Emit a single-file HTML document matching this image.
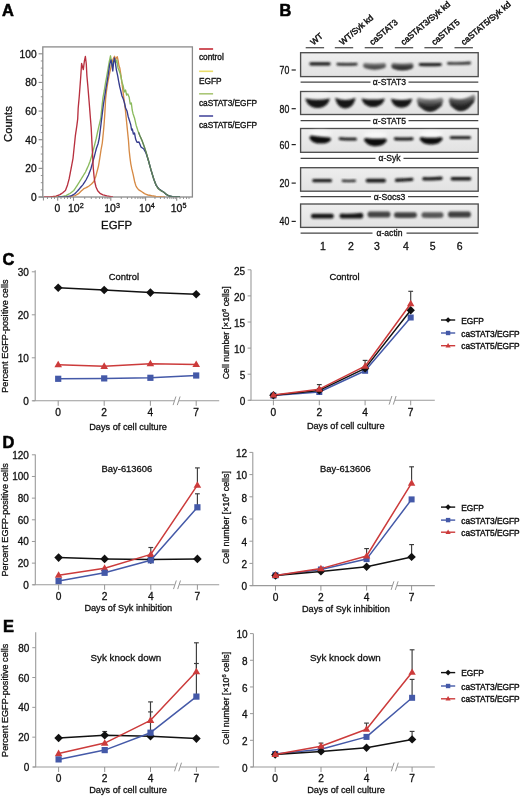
<!DOCTYPE html>
<html><head><meta charset="utf-8"><title>Figure</title>
<style>
html,body{margin:0;padding:0;background:#fff;}
body{width:520px;height:797px;overflow:hidden;}
svg{display:block;font-family:"Liberation Sans", sans-serif;will-change:transform;}
text{stroke:#111;stroke-width:0.3px;}
</style></head><body>
<svg width="520" height="797" viewBox="0 0 520 797">
<rect width="520" height="797" fill="#fff"/>
<text x="1.9" y="15.6" font-size="16.4" text-anchor="start" font-weight="bold" fill="#000" style="stroke:#000;stroke-width:0.55px">A</text>
<rect x="42.8" y="46.9" width="149.6" height="150.1" fill="none" stroke="#8a8a8a" stroke-width="1.3"/>
<line x1="38.6" y1="197" x2="42.8" y2="197" stroke="#8a8a8a" stroke-width="1.3" />
<line x1="38.6" y1="197" x2="42.8" y2="197" stroke="#8a8a8a" stroke-width="1.1" />
<text x="36.6" y="200.8" font-size="10.2" text-anchor="end" font-weight="normal" fill="#111" >0</text>
<line x1="40.8" y1="189.84" x2="42.8" y2="189.84" stroke="#8a8a8a" stroke-width="0.9" />
<line x1="40.8" y1="182.68" x2="42.8" y2="182.68" stroke="#8a8a8a" stroke-width="0.9" />
<line x1="40.8" y1="175.52" x2="42.8" y2="175.52" stroke="#8a8a8a" stroke-width="0.9" />
<line x1="38.6" y1="168.36" x2="42.8" y2="168.36" stroke="#8a8a8a" stroke-width="1.1" />
<text x="36.6" y="172.16" font-size="10.2" text-anchor="end" font-weight="normal" fill="#111" >20</text>
<line x1="40.8" y1="161.2" x2="42.8" y2="161.2" stroke="#8a8a8a" stroke-width="0.9" />
<line x1="40.8" y1="154.04" x2="42.8" y2="154.04" stroke="#8a8a8a" stroke-width="0.9" />
<line x1="40.8" y1="146.88" x2="42.8" y2="146.88" stroke="#8a8a8a" stroke-width="0.9" />
<line x1="38.6" y1="139.72" x2="42.8" y2="139.72" stroke="#8a8a8a" stroke-width="1.1" />
<text x="36.6" y="143.52" font-size="10.2" text-anchor="end" font-weight="normal" fill="#111" >40</text>
<line x1="40.8" y1="132.56" x2="42.8" y2="132.56" stroke="#8a8a8a" stroke-width="0.9" />
<line x1="40.8" y1="125.4" x2="42.8" y2="125.4" stroke="#8a8a8a" stroke-width="0.9" />
<line x1="40.8" y1="118.24" x2="42.8" y2="118.24" stroke="#8a8a8a" stroke-width="0.9" />
<line x1="38.6" y1="111.08" x2="42.8" y2="111.08" stroke="#8a8a8a" stroke-width="1.1" />
<text x="36.6" y="114.88" font-size="10.2" text-anchor="end" font-weight="normal" fill="#111" >60</text>
<line x1="40.8" y1="103.92" x2="42.8" y2="103.92" stroke="#8a8a8a" stroke-width="0.9" />
<line x1="40.8" y1="96.76" x2="42.8" y2="96.76" stroke="#8a8a8a" stroke-width="0.9" />
<line x1="40.8" y1="89.6" x2="42.8" y2="89.6" stroke="#8a8a8a" stroke-width="0.9" />
<line x1="38.6" y1="82.44" x2="42.8" y2="82.44" stroke="#8a8a8a" stroke-width="1.1" />
<text x="36.6" y="86.24" font-size="10.2" text-anchor="end" font-weight="normal" fill="#111" >80</text>
<line x1="40.8" y1="75.28" x2="42.8" y2="75.28" stroke="#8a8a8a" stroke-width="0.9" />
<line x1="40.8" y1="68.12" x2="42.8" y2="68.12" stroke="#8a8a8a" stroke-width="0.9" />
<line x1="40.8" y1="60.96" x2="42.8" y2="60.96" stroke="#8a8a8a" stroke-width="0.9" />
<line x1="38.6" y1="53.8" x2="42.8" y2="53.8" stroke="#8a8a8a" stroke-width="1.1" />
<text x="36.6" y="57.6" font-size="10.2" text-anchor="end" font-weight="normal" fill="#111" >100</text>
<line x1="43.4" y1="197" x2="43.4" y2="200.5" stroke="#8a8a8a" stroke-width="1" />
<line x1="57.7" y1="197" x2="57.7" y2="200.8" stroke="#8a8a8a" stroke-width="1.1" />
<line x1="73.5" y1="197" x2="73.5" y2="200.8" stroke="#8a8a8a" stroke-width="1.1" />
<line x1="110.8" y1="197" x2="110.8" y2="200.8" stroke="#8a8a8a" stroke-width="1.1" />
<line x1="145.6" y1="197" x2="145.6" y2="200.8" stroke="#8a8a8a" stroke-width="1.1" />
<line x1="176.7" y1="197" x2="176.7" y2="200.8" stroke="#8a8a8a" stroke-width="1.1" />
<line x1="84.73" y1="197" x2="84.73" y2="199" stroke="#8a8a8a" stroke-width="0.9" />
<line x1="91.3" y1="197" x2="91.3" y2="199" stroke="#8a8a8a" stroke-width="0.9" />
<line x1="95.96" y1="197" x2="95.96" y2="199" stroke="#8a8a8a" stroke-width="0.9" />
<line x1="99.57" y1="197" x2="99.57" y2="199" stroke="#8a8a8a" stroke-width="0.9" />
<line x1="102.53" y1="197" x2="102.53" y2="199" stroke="#8a8a8a" stroke-width="0.9" />
<line x1="105.02" y1="197" x2="105.02" y2="199" stroke="#8a8a8a" stroke-width="0.9" />
<line x1="107.19" y1="197" x2="107.19" y2="199" stroke="#8a8a8a" stroke-width="0.9" />
<line x1="109.09" y1="197" x2="109.09" y2="199" stroke="#8a8a8a" stroke-width="0.9" />
<line x1="121.28" y1="197" x2="121.28" y2="199" stroke="#8a8a8a" stroke-width="0.9" />
<line x1="127.4" y1="197" x2="127.4" y2="199" stroke="#8a8a8a" stroke-width="0.9" />
<line x1="131.75" y1="197" x2="131.75" y2="199" stroke="#8a8a8a" stroke-width="0.9" />
<line x1="135.12" y1="197" x2="135.12" y2="199" stroke="#8a8a8a" stroke-width="0.9" />
<line x1="137.88" y1="197" x2="137.88" y2="199" stroke="#8a8a8a" stroke-width="0.9" />
<line x1="140.21" y1="197" x2="140.21" y2="199" stroke="#8a8a8a" stroke-width="0.9" />
<line x1="142.23" y1="197" x2="142.23" y2="199" stroke="#8a8a8a" stroke-width="0.9" />
<line x1="144.01" y1="197" x2="144.01" y2="199" stroke="#8a8a8a" stroke-width="0.9" />
<line x1="154.96" y1="197" x2="154.96" y2="199" stroke="#8a8a8a" stroke-width="0.9" />
<line x1="160.44" y1="197" x2="160.44" y2="199" stroke="#8a8a8a" stroke-width="0.9" />
<line x1="164.32" y1="197" x2="164.32" y2="199" stroke="#8a8a8a" stroke-width="0.9" />
<line x1="167.34" y1="197" x2="167.34" y2="199" stroke="#8a8a8a" stroke-width="0.9" />
<line x1="169.8" y1="197" x2="169.8" y2="199" stroke="#8a8a8a" stroke-width="0.9" />
<line x1="171.88" y1="197" x2="171.88" y2="199" stroke="#8a8a8a" stroke-width="0.9" />
<line x1="173.69" y1="197" x2="173.69" y2="199" stroke="#8a8a8a" stroke-width="0.9" />
<line x1="175.28" y1="197" x2="175.28" y2="199" stroke="#8a8a8a" stroke-width="0.9" />
<line x1="47.5" y1="197" x2="47.5" y2="199" stroke="#8a8a8a" stroke-width="0.9" />
<line x1="51.5" y1="197" x2="51.5" y2="199" stroke="#8a8a8a" stroke-width="0.9" />
<line x1="54.5" y1="197" x2="54.5" y2="199" stroke="#8a8a8a" stroke-width="0.9" />
<line x1="61" y1="197" x2="61" y2="199" stroke="#8a8a8a" stroke-width="0.9" />
<line x1="64.5" y1="197" x2="64.5" y2="199" stroke="#8a8a8a" stroke-width="0.9" />
<line x1="67.5" y1="197" x2="67.5" y2="199" stroke="#8a8a8a" stroke-width="0.9" />
<line x1="70.5" y1="197" x2="70.5" y2="199" stroke="#8a8a8a" stroke-width="0.9" />
<line x1="180" y1="197" x2="180" y2="199" stroke="#8a8a8a" stroke-width="0.9" />
<line x1="183.5" y1="197" x2="183.5" y2="199" stroke="#8a8a8a" stroke-width="0.9" />
<line x1="186.5" y1="197" x2="186.5" y2="199" stroke="#8a8a8a" stroke-width="0.9" />
<line x1="189" y1="197" x2="189" y2="199" stroke="#8a8a8a" stroke-width="0.9" />
<text x="57.4" y="212.4" font-size="10.3" text-anchor="middle" font-weight="normal" fill="#111" >0</text>
<text x="75.8" y="212.4" font-size="10.5" text-anchor="middle" fill="#111">10<tspan font-size="7.2" dy="-4.4">2</tspan></text>
<text x="112.1" y="212.4" font-size="10.5" text-anchor="middle" fill="#111">10<tspan font-size="7.2" dy="-4.4">3</tspan></text>
<text x="146.9" y="212.4" font-size="10.5" text-anchor="middle" fill="#111">10<tspan font-size="7.2" dy="-4.4">4</tspan></text>
<text x="178.6" y="212.4" font-size="10.5" text-anchor="middle" fill="#111">10<tspan font-size="7.2" dy="-4.4">5</tspan></text>
<text x="116.6" y="229.3" font-size="11.4" text-anchor="middle" font-weight="normal" fill="#111" >EGFP</text>
<text transform="translate(12.1,124.1) rotate(-90)" font-size="11.3" text-anchor="middle" fill="#111">Counts</text>
<clipPath id="clipA"><rect x="43.5" y="47.5" width="148.3" height="149.2"/></clipPath>
<polyline points="62,197 63.33,196.93 64.67,196.87 66,196.8 67.33,196.73 68.67,196.67 70,196.6 71.25,196.38 72.5,196.15 73.75,195.92 75,195.7 76.17,195.03 77.33,194.37 78.5,193.7 79.5,192.73 80.5,191.77 81.5,190.8 82.75,189.7 84,188.6 86.2,187.7 87.6,186.85 89,186 90.25,185 91.5,184 92.65,182.75 93.8,181.5 94.25,180.38 94.7,179.25 95.15,178.12 95.6,177 95.92,175.8 96.24,174.6 96.56,173.4 96.88,172.2 97.2,171 97.53,169.75 97.85,168.5 98.17,167.25 98.5,166 98.72,164.67 98.93,163.33 99.15,162 99.37,160.67 99.58,159.33 99.8,158 100,156.67 100.2,155.33 100.4,154 100.6,152.67 100.8,151.33 101,150 101.26,148.6 101.52,147.2 101.78,145.8 102.04,144.4 102.3,143 102.42,141.78 102.54,140.56 102.67,139.33 102.79,138.11 102.91,136.89 103.03,135.67 103.16,134.44 103.28,133.22 103.4,132 103.52,130.67 103.63,129.33 103.75,128 103.87,126.67 103.98,125.33 104.1,124 104.2,122.6 104.3,121.2 104.4,119.8 104.5,118.4 104.6,117 104.67,115.75 104.75,114.5 104.83,113.25 104.9,112 104.97,110.75 105.05,109.5 105.12,108.25 105.2,107 105.27,105.67 105.33,104.33 105.4,103 105.47,101.67 105.53,100.33 105.6,99 105.75,97.67 105.9,96.33 106.05,95 106.2,93.67 106.35,92.33 106.5,91 106.7,89.67 106.9,88.33 107.1,87 107.3,85.67 107.5,84.33 107.7,83 107.96,81.6 108.22,80.2 108.48,78.8 108.74,77.4 109,76 109.26,74.8 109.52,73.6 109.78,72.4 110.04,71.2 110.3,70 110.56,68.8 110.82,67.6 111.08,66.4 111.34,65.2 111.6,64 112,62.67 112.4,61.33 112.8,60 113.3,58.75 113.8,57.5 114.6,56.3 114.87,57.53 115.13,58.77 115.4,60 116.3,58 117.3,56.8 117.6,58.2 117.9,59.6 118.2,61 118.4,62.25 118.6,63.5 118.8,64.75 119,66 119.8,68 120,69.25 120.2,70.5 120.4,71.75 120.6,73 120.76,74.2 120.92,75.4 121.08,76.6 121.24,77.8 121.4,79 121.56,80.2 121.72,81.4 121.88,82.6 122.04,83.8 122.2,85 122.36,86.24 122.52,87.48 122.68,88.72 122.84,89.96 123,91.2 123.16,92.56 123.32,93.92 123.48,95.28 123.64,96.64 123.8,98 123.96,99.2 124.12,100.4 124.28,101.6 124.44,102.8 124.6,104 124.76,105.2 124.92,106.4 125.08,107.6 125.24,108.8 125.4,110 125.53,111.33 125.67,112.67 125.8,114 125.93,115.33 126.07,116.67 126.2,118 126.33,119.33 126.47,120.67 126.6,122 126.73,123.33 126.87,124.67 127,126 127.13,127.33 127.27,128.67 127.4,130 127.53,131.33 127.67,132.67 127.8,134 127.94,135.36 128.08,136.72 128.22,138.08 128.36,139.44 128.5,140.8 128.59,142.05 128.68,143.3 128.76,144.55 128.85,145.8 128.94,147.05 129.02,148.3 129.11,149.55 129.2,150.8 129.33,152 129.47,153.2 129.6,154.4 129.73,155.6 129.87,156.8 130,158 130.2,159.45 130.4,160.9 130.6,162.35 130.8,163.8 131.05,165.1 131.3,166.4 131.55,167.7 131.8,169 132.1,170.2 132.4,171.4 132.7,172.6 133,173.8 133.25,174.98 133.5,176.15 133.75,177.32 134,178.5 134.27,179.77 134.53,181.03 134.8,182.3 135.3,183.9 135.8,185.5 136.35,186.6 136.9,187.7 137.7,188.7 138.5,189.7 140,190.6 141.5,191.5 142.5,192.2 143.5,192.9 144.5,193.6 145.67,194.07 146.83,194.53 148,195 149.33,195.27 150.67,195.53 152,195.8 153.33,196.03 154.67,196.27 156,196.5 157.29,196.57 158.57,196.64 159.86,196.71 161.14,196.79 162.43,196.86 163.71,196.93 165,197" fill="none" stroke="#d68a45" stroke-width="1.35" stroke-linejoin="round" clip-path="url(#clipA)"/>
<polyline points="52,197 53.33,196.97 54.67,196.93 56,196.9 57.33,196.87 58.67,196.83 60,196.8 61.2,196.56 62.4,196.32 63.6,196.08 64.8,195.84 66,195.6 67.33,194.9 68.67,194.2 70,193.5 70.95,192.75 71.9,192 72.85,191.25 73.8,190.5 74.54,189.4 75.28,188.3 76.02,187.2 76.76,186.1 77.5,185 78.17,183.92 78.83,182.83 79.5,181.75 80.17,180.67 80.83,179.58 81.5,178.5 82.17,177.42 82.83,176.33 83.5,175.25 84.17,174.17 84.83,173.08 85.5,172 86.04,170.8 86.58,169.6 87.12,168.4 87.66,167.2 88.2,166 88.65,164.88 89.1,163.75 89.55,162.62 90,161.5 90.36,160.29 90.71,159.07 91.07,157.86 91.43,156.64 91.79,155.43 92.14,154.21 92.5,153 92.85,151.67 93.2,150.33 93.55,149 93.9,147.67 94.25,146.33 94.6,145 94.92,143.7 95.24,142.4 95.56,141.1 95.88,139.8 96.2,138.5 96.47,137.25 96.73,136 97,134.75 97.27,133.5 97.53,132.25 97.8,131 98.08,129.8 98.36,128.6 98.64,127.4 98.92,126.2 99.2,125 99.52,123.6 99.84,122.2 100.16,120.8 100.48,119.4 100.8,118 100.93,116.67 101.07,115.33 101.2,114 101.33,112.67 101.47,111.33 101.6,110 101.74,108.73 101.88,107.46 102.02,106.19 102.16,104.92 102.3,103.65 102.44,102.38 102.58,101.11 102.72,99.84 102.86,98.57 103,97.3 103.24,96.04 103.48,94.78 103.72,93.52 103.96,92.26 104.2,91 104.4,89.75 104.6,88.5 104.8,87.25 105,86 105.2,84.75 105.4,83.5 105.64,82.2 105.88,80.9 106.12,79.6 106.36,78.3 106.6,77 106.83,75.67 107.07,74.33 107.3,73 107.53,71.67 107.77,70.33 108,69 108.24,67.6 108.48,66.2 108.72,64.8 108.96,63.4 109.2,62 109.46,60.76 109.72,59.52 109.98,58.28 110.24,57.04 110.5,55.8 110.72,57.1 110.95,58.4 111.18,59.7 111.4,61 111.58,62.2 111.76,63.4 111.94,64.6 112.12,65.8 112.3,67 112.58,65.75 112.85,64.5 113.12,63.25 113.4,62 113.95,60.5 114.5,59 114.87,60.33 115.23,61.67 115.6,63 116.2,61.5 116.8,60 117,61.33 117.2,62.67 117.4,64 117.6,65.33 117.8,66.67 118,68 118.65,69.5 119.3,71 119.67,72.2 120.05,73.4 120.42,74.6 120.8,75.8 121.04,77.04 121.28,78.28 121.52,79.52 121.76,80.76 122,82 122.4,83.33 122.8,84.67 123.2,86 123.42,87.2 123.64,88.4 123.86,89.6 124.08,90.8 124.3,92 125.5,90 125.78,91.25 126.05,92.5 126.32,93.75 126.6,95 127.8,94 128.5,95.65 129.2,97.3 129.4,98.64 129.6,99.98 129.8,101.32 130,102.66 130.2,104 131.3,103 131.48,104.4 131.66,105.8 131.84,107.2 132.02,108.6 132.2,110 132.5,111.33 132.8,112.67 133.1,114 133.57,115.33 134.03,116.67 134.5,118 134.78,119.23 135.07,120.47 135.35,121.7 135.63,122.93 135.92,124.17 136.2,125.4 136.65,126.8 137.1,128.2 137.55,129.6 138,131 138.5,132.25 139,133.5 139.5,134.75 140,136 140.6,137.33 141.2,138.67 141.8,140 142.3,141.35 142.8,142.7 143.3,144.05 143.8,145.4 144.24,146.72 144.68,148.04 145.12,149.36 145.56,150.68 146,152 146.36,153.26 146.71,154.51 147.07,155.77 147.43,157.03 147.79,158.29 148.14,159.54 148.5,160.8 148.86,162.11 149.21,163.43 149.57,164.74 149.93,166.06 150.29,167.37 150.64,168.69 151,170 151.35,171.15 151.7,172.3 152.05,173.45 152.4,174.6 152.75,175.75 153.1,176.9 153.45,178.05 153.8,179.2 154.24,180.36 154.68,181.52 155.12,182.68 155.56,183.84 156,185 156.83,186.27 157.67,187.53 158.5,188.8 159.75,189.7 161,190.6 162.25,191.3 163.5,192 164.75,193.1 166,194.2 167.5,195.1 169,196 170.33,196.27 171.67,196.53 173,196.8 174.4,196.84 175.8,196.88 177.2,196.92 178.6,196.96 180,197" fill="none" stroke="#8bbb5e" stroke-width="1.35" stroke-linejoin="round" clip-path="url(#clipA)"/>
<polyline points="58,197 59.33,196.97 60.67,196.93 62,196.9 63.33,196.87 64.67,196.83 66,196.8 67.25,196.6 68.5,196.4 69.75,196.2 71,196 72.17,195.33 73.33,194.67 74.5,194 75.57,192.93 76.63,191.87 77.7,190.8 78.63,189.7 79.57,188.6 80.5,187.5 81.33,186.53 82.17,185.57 83,184.6 83.75,183.45 84.5,182.3 85.25,181.15 86,180 86.62,178.75 87.25,177.5 87.88,176.25 88.5,175 88.96,173.8 89.42,172.6 89.88,171.4 90.34,170.2 90.8,169 91.13,167.83 91.47,166.67 91.8,165.5 92.13,164.33 92.47,163.17 92.8,162 93.16,160.68 93.52,159.36 93.88,158.04 94.24,156.72 94.6,155.4 94.92,154.17 95.23,152.93 95.55,151.7 95.87,150.47 96.18,149.23 96.5,148 97,146.67 97.5,145.33 98,144 98.3,142.62 98.6,141.25 98.9,139.88 99.2,138.5 99.36,137.29 99.51,136.07 99.67,134.86 99.83,133.64 99.99,132.43 100.14,131.21 100.3,130 100.45,128.75 100.6,127.5 100.75,126.25 100.9,125 101.05,123.75 101.2,122.5 101.35,121.25 101.5,120 101.67,118.67 101.83,117.33 102,116 102.17,114.67 102.33,113.33 102.5,112 102.67,110.67 102.83,109.33 103,108 103.17,106.67 103.33,105.33 103.5,104 103.72,102.67 103.93,101.33 104.15,100 104.37,98.67 104.58,97.33 104.8,96 105,94.67 105.2,93.33 105.4,92 105.6,90.67 105.8,89.33 106,88 106.23,86.67 106.47,85.33 106.7,84 106.93,82.67 107.17,81.33 107.4,80 107.6,78.67 107.8,77.33 108,76 108.2,74.67 108.4,73.33 108.6,72 108.8,70.67 109,69.33 109.2,68 109.4,66.67 109.6,65.33 109.8,64 110.2,62.67 110.6,61.33 111,60 111.25,61.25 111.5,62.5 111.75,63.75 112,65 112.16,66.2 112.32,67.4 112.48,68.6 112.64,69.8 112.8,71 112.91,69.71 113.03,68.43 113.14,67.14 113.26,65.86 113.37,64.57 113.49,63.29 113.6,62 113.9,60.67 114.2,59.33 114.5,58 114.72,59.25 114.95,60.5 115.18,61.75 115.4,63 115.6,64.4 115.8,65.8 116,67.2 116.2,68.6 116.4,70 116.73,71.45 117.05,72.9 117.38,74.35 117.7,75.8 117.92,77.04 118.14,78.28 118.36,79.52 118.58,80.76 118.8,82 119.05,83.25 119.3,84.5 119.55,85.75 119.8,87 120.13,88.33 120.47,89.67 120.8,91 121.1,92.25 121.4,93.5 121.7,94.75 122,96 122.65,97.5 123.3,99 123.7,100.33 124.1,101.67 124.5,103 124.78,104.25 125.05,105.5 125.32,106.75 125.6,108 126.3,109.5 127,111 127.26,112.2 127.52,113.4 127.78,114.6 128.04,115.8 128.3,117 128.73,118.33 129.17,119.67 129.6,121 130,122.33 130.4,123.67 130.8,125 131,126.25 131.2,127.5 131.4,128.75 131.6,130 132.3,129 132.58,130.25 132.85,131.5 133.12,132.75 133.4,134 134.5,133 134.72,134.2 134.94,135.4 135.16,136.6 135.38,137.8 135.6,139 136.3,140.65 137,142.3 139,142 139.5,143.25 140,144.5 140.5,145.75 141,147 142.4,148 143.8,149 144.53,150.33 145.27,151.67 146,153 146.42,154.3 146.83,155.6 147.25,156.9 147.67,158.2 148.08,159.5 148.5,160.8 148.86,162.11 149.21,163.43 149.57,164.74 149.93,166.06 150.29,167.37 150.64,168.69 151,170 151.35,171.15 151.7,172.3 152.05,173.45 152.4,174.6 152.75,175.75 153.1,176.9 153.45,178.05 153.8,179.2 154.24,180.36 154.68,181.52 155.12,182.68 155.56,183.84 156,185 156.83,186.17 157.67,187.33 158.5,188.5 159.75,189.45 161,190.4 162.25,191.2 163.5,192 164.75,193.1 166,194.2 167.5,195.1 169,196 170.33,196.27 171.67,196.53 173,196.8 174.4,196.84 175.8,196.88 177.2,196.92 178.6,196.96 180,197" fill="none" stroke="#353c8e" stroke-width="1.35" stroke-linejoin="round" clip-path="url(#clipA)"/>
<polyline points="138.5,132.25 139,133.5 139.5,134.75 140,136 140.6,137.33 141.2,138.67 141.8,140 142.3,141.35 142.8,142.7 143.3,144.05 143.8,145.4 144.24,146.72 144.68,148.04 145.12,149.36 145.56,150.68 146,152 146.36,153.26 146.71,154.51 147.07,155.77 147.43,157.03 147.79,158.29 148.14,159.54 148.5,160.8 148.86,162.11 149.21,163.43 149.57,164.74 149.93,166.06 150.29,167.37 150.64,168.69 151,170 151.35,171.15 151.7,172.3 152.05,173.45 152.4,174.6 152.75,175.75 153.1,176.9 153.45,178.05 153.8,179.2 154.24,180.36 154.68,181.52 155.12,182.68 155.56,183.84 156,185 156.83,186.27 157.67,187.53 158.5,188.8 159.75,189.7 161,190.6 162.25,191.3 163.5,192 164.75,193.1 166,194.2 167.5,195.1 169,196 170.33,196.27 171.67,196.53 173,196.8 174.4,196.84 175.8,196.88 177.2,196.92 178.6,196.96 180,197" fill="none" stroke="#5f7f58" stroke-width="1.3" stroke-linejoin="round" clip-path="url(#clipA)"/>
<polyline points="44,197 45.2,196.96 46.4,196.92 47.6,196.88 48.8,196.84 50,196.8 51.2,196.68 52.4,196.56 53.6,196.44 54.8,196.32 56,196.2 57.33,195.67 58.67,195.13 60,194.6 61,193.93 62,193.27 63,192.6 64.2,191.6 65.4,190.6 65.93,189.2 66.45,187.8 66.97,186.4 67.5,185 67.84,183.7 68.18,182.4 68.52,181.1 68.86,179.8 69.2,178.5 69.45,177.19 69.7,175.88 69.95,174.56 70.2,173.25 70.45,171.94 70.7,170.62 70.95,169.31 71.2,168 71.42,166.81 71.65,165.62 71.88,164.44 72.1,163.25 72.33,162.06 72.55,160.88 72.78,159.69 73,158.5 73.13,157.25 73.26,156 73.39,154.75 73.52,153.5 73.65,152.25 73.78,151 73.91,149.75 74.04,148.5 74.17,147.25 74.3,146 74.44,144.68 74.58,143.35 74.71,142.03 74.85,140.7 74.99,139.38 75.12,138.05 75.26,136.72 75.4,135.4 75.6,134.06 75.8,132.71 76,131.37 76.2,130.03 76.4,128.69 76.6,127.34 76.8,126 76.98,124.6 77.16,123.2 77.34,121.8 77.52,120.4 77.7,119 77.76,117.78 77.81,116.56 77.87,115.33 77.92,114.11 77.98,112.89 78.03,111.67 78.09,110.44 78.14,109.22 78.2,108 78.31,106.78 78.42,105.56 78.53,104.33 78.64,103.11 78.76,101.89 78.87,100.67 78.98,99.44 79.09,98.22 79.2,97 79.3,95.71 79.4,94.43 79.5,93.14 79.6,91.86 79.7,90.57 79.8,89.29 79.9,88 79.99,86.78 80.08,85.56 80.17,84.34 80.26,83.12 80.35,81.9 80.44,80.68 80.53,79.46 80.62,78.24 80.71,77.02 80.8,75.8 80.88,74.57 80.96,73.34 81.04,72.11 81.12,70.88 81.2,69.65 81.28,68.42 81.36,67.19 81.44,65.96 81.52,64.73 81.6,63.5 82,65 82.4,66.5 82.85,68.05 83.3,69.6 83.46,68.37 83.61,67.14 83.77,65.91 83.93,64.69 84.09,63.46 84.24,62.23 84.4,61 84.73,59.5 85.07,58 85.4,56.5 85.55,57.75 85.7,59 85.85,60.25 86,61.5 86.15,62.75 86.3,64 86.37,65.31 86.43,66.62 86.5,67.93 86.57,69.24 86.63,70.56 86.7,71.87 86.77,73.18 86.83,74.49 86.9,75.8 87.01,77.02 87.12,78.24 87.23,79.46 87.34,80.68 87.45,81.9 87.56,83.12 87.67,84.34 87.78,85.56 87.89,86.78 88,88 88.1,89.23 88.2,90.46 88.3,91.69 88.4,92.92 88.5,94.15 88.6,95.38 88.7,96.62 88.8,97.85 88.9,99.08 89,100.31 89.1,101.54 89.2,102.77 89.3,104 89.4,105.27 89.5,106.55 89.6,107.82 89.7,109.09 89.8,110.36 89.9,111.64 90,112.91 90.1,114.18 90.2,115.45 90.3,116.73 90.4,118 90.5,119.25 90.6,120.5 90.7,121.75 90.8,123 90.9,124.25 91,125.5 91.1,126.75 91.2,128 91.26,129.2 91.32,130.4 91.38,131.6 91.44,132.8 91.5,134 91.56,135.2 91.62,136.4 91.68,137.6 91.74,138.8 91.8,140 91.87,141.25 91.93,142.5 92,143.75 92.07,145 92.13,146.25 92.2,147.5 92.27,148.75 92.33,150 92.4,151.25 92.47,152.5 92.53,153.75 92.6,155 92.66,156.2 92.72,157.4 92.78,158.6 92.84,159.8 92.9,161 92.96,162.2 93.02,163.4 93.08,164.6 93.14,165.8 93.2,167 93.31,168.29 93.43,169.57 93.54,170.86 93.66,172.14 93.77,173.43 93.89,174.71 94,176 94.16,177.2 94.32,178.4 94.48,179.6 94.64,180.8 94.8,182 95.1,183.25 95.4,184.5 95.7,185.75 96,187 96.57,188.27 97.13,189.53 97.7,190.8 98.85,192.05 100,193.3 101.5,194.05 103,194.8 104.33,195.17 105.67,195.53 107,195.9 108.33,196.13 109.67,196.37 111,196.6 113,197" fill="none" stroke="#b8303f" stroke-width="1.35" stroke-linejoin="round" clip-path="url(#clipA)"/>
<line x1="199.1" y1="49" x2="213.1" y2="49" stroke="#c42a35" stroke-width="1.6" />
<text x="198.9" y="59.9" font-size="8.3" text-anchor="start" font-weight="normal" fill="#1a1a1a" style="stroke-width:0.35px">control</text>
<line x1="199.1" y1="71.3" x2="213.1" y2="71.3" stroke="#e9dc6a" stroke-width="1.6" />
<text x="198.9" y="83.7" font-size="8.3" text-anchor="start" font-weight="normal" fill="#1a1a1a" style="stroke-width:0.35px">EGFP</text>
<line x1="199.1" y1="93.8" x2="213.1" y2="93.8" stroke="#aac777" stroke-width="1.6" />
<text x="198.9" y="105.8" font-size="8.3" text-anchor="start" font-weight="normal" fill="#1a1a1a" style="stroke-width:0.35px">caSTAT3/EGFP</text>
<line x1="199.1" y1="116" x2="213.1" y2="116" stroke="#4a4c9e" stroke-width="1.6" />
<text x="198.9" y="128" font-size="8.3" text-anchor="start" font-weight="normal" fill="#1a1a1a" style="stroke-width:0.35px">caSTAT5/EGFP</text>
<text x="279.6" y="15.9" font-size="16.4" text-anchor="start" font-weight="bold" fill="#000" style="stroke:#000;stroke-width:0.55px">B</text>
<text transform="translate(313.4,45.4) rotate(-40.5)" font-size="8.5" fill="#111" style="stroke-width:0.45px">WT</text>
<text transform="translate(342.6,45.4) rotate(-40.5)" font-size="8.5" fill="#111" style="stroke-width:0.45px">WT/Syk kd</text>
<text transform="translate(372.4,45.4) rotate(-40.5)" font-size="8.5" fill="#111" style="stroke-width:0.45px">caSTAT3</text>
<text transform="translate(403.7,45.4) rotate(-40.5)" font-size="8.5" fill="#111" style="stroke-width:0.45px">caSTAT3/Syk kd</text>
<text transform="translate(434.4,45.4) rotate(-40.5)" font-size="8.5" fill="#111" style="stroke-width:0.45px">caSTAT5</text>
<text transform="translate(464.1,45.4) rotate(-40.5)" font-size="8.5" fill="#111" style="stroke-width:0.45px">caSTAT5/Syk kd</text>
<line x1="305.7" y1="47.7" x2="324.1" y2="47.7" stroke="#555" stroke-width="1.3" />
<line x1="334.8" y1="47.7" x2="353.2" y2="47.7" stroke="#555" stroke-width="1.3" />
<line x1="364.7" y1="47.7" x2="383.1" y2="47.7" stroke="#555" stroke-width="1.3" />
<line x1="394.8" y1="47.7" x2="413.2" y2="47.7" stroke="#555" stroke-width="1.3" />
<line x1="424.4" y1="47.7" x2="442.8" y2="47.7" stroke="#555" stroke-width="1.3" />
<line x1="454.5" y1="47.7" x2="472.9" y2="47.7" stroke="#555" stroke-width="1.3" />
<defs><linearGradient id="blotbg" x1="0" y1="0" x2="0" y2="1"><stop offset="0" stop-color="#eeeeee"/><stop offset="0.5" stop-color="#e8e8e8"/><stop offset="1" stop-color="#e2e2e2"/></linearGradient><linearGradient id="ug" x1="0" y1="0" x2="0" y2="1"><stop offset="0" stop-color="#9a9a9a"/><stop offset="0.45" stop-color="#4a4a4a"/><stop offset="1" stop-color="#1a1a1a"/></linearGradient><linearGradient id="ug3" x1="0" y1="0" x2="0" y2="1"><stop offset="0" stop-color="#8a8a8a"/><stop offset="0.5" stop-color="#4c4c4c"/><stop offset="1" stop-color="#333"/></linearGradient><filter id="bl" x="-20%" y="-60%" width="140%" height="220%"><feGaussianBlur stdDeviation="0.85"/></filter><filter id="bl2" x="-20%" y="-60%" width="140%" height="220%"><feGaussianBlur stdDeviation="1.6"/></filter></defs>
<rect x="300.6" y="52.7" width="177.6" height="23.9" fill="url(#blotbg)" stroke="#4e4e4e" stroke-width="1.35"/>
<rect x="300.6" y="91.5" width="177.6" height="23" fill="url(#blotbg)" stroke="#4e4e4e" stroke-width="1.35"/>
<rect x="300.6" y="128.5" width="177.6" height="23.8" fill="url(#blotbg)" stroke="#4e4e4e" stroke-width="1.35"/>
<rect x="300.6" y="167.7" width="177.6" height="23.5" fill="url(#blotbg)" stroke="#4e4e4e" stroke-width="1.35"/>
<rect x="300.6" y="204" width="177.6" height="23.4" fill="url(#blotbg)" stroke="#4e4e4e" stroke-width="1.35"/>
<path d="M310.6,62.2 Q320,62.4 329.4,62.2 Q331.96,63.8 329.4,65.4 Q320,65.8 310.6,65.4 Q308.04,63.8 310.6,62.2 Z" fill="#181818" opacity="1" filter="url(#bl)"/>
<path d="M337.35,62.8 Q347,63 356.65,62.8 Q358.81,64.15 356.65,65.5 Q347,65.9 337.35,65.5 Q335.19,64.15 337.35,62.8 Z" fill="#222" opacity="0.95" filter="url(#bl)"/>
<path d="M364.6,62.8 Q374.55,64.4 384.5,62.8 Q387.7,65.4 384.5,68 Q374.55,71.6 364.6,68 Q361.4,65.4 364.6,62.8 Z" fill="url(#ug3)" opacity="0.95" filter="url(#bl)"/>
<path d="M392.9,62.8 Q402.4,64 411.9,62.8 Q415.1,65.5 411.9,68.2 Q402.4,72.2 392.9,68.2 Q389.7,65.5 392.9,62.8 Z" fill="url(#ug3)" opacity="1" filter="url(#bl)"/>
<path d="M392.95,65.5 Q402.4,66.5 411.85,65.5 Q414.17,66.95 411.85,68.4 Q402.4,71.6 392.95,68.4 Q390.63,66.95 392.95,65.5 Z" fill="#2a2a2a" opacity="0.6" filter="url(#bl)"/>
<path d="M419.85,62.9 Q430.25,63.3 440.65,62.9 Q443.13,64.45 440.65,66 Q430.25,66.4 419.85,66 Q417.37,64.45 419.85,62.9 Z" fill="#1c1c1c" opacity="1" filter="url(#bl)"/>
<path d="M448,62 Q459,62.4 470,61.6 Q472.24,63 470,64.4 Q459,65 448,64.8 Q445.76,63.4 448,62 Z" fill="#262626" opacity="0.95" filter="url(#bl)"/>
<ellipse cx="317.6" cy="95" rx="12.6" ry="2.0" fill="#f6f6f6" opacity="0.7" filter="url(#bl2)"/>
<ellipse cx="345.35" cy="95.4" rx="10.55" ry="2.0" fill="#f6f6f6" opacity="0.7" filter="url(#bl2)"/>
<ellipse cx="373.2" cy="95.6" rx="11.9" ry="2.0" fill="#f6f6f6" opacity="0.7" filter="url(#bl2)"/>
<ellipse cx="401.55" cy="96" rx="10.95" ry="2.0" fill="#f6f6f6" opacity="0.7" filter="url(#bl2)"/>
<ellipse cx="430.05" cy="96.5" rx="13.75" ry="2.0" fill="#f6f6f6" opacity="0.7" filter="url(#bl2)"/>
<ellipse cx="462.1" cy="96" rx="13.7" ry="2.0" fill="#f6f6f6" opacity="0.7" filter="url(#bl2)"/>
<path d="M305.9,98.4 Q317.6,101.2 329.3,98.4 Q330.74,99.3 329.3,100.2 C326.28,110.6 308.92,110.6 305.9,100.2 Q304.46,99.3 305.9,98.4 Z" fill="#141414" opacity="1" filter="url(#bl)"/>
<path d="M335.8,98 Q345.35,102 354.9,98 Q356.5,99 354.9,100 C352.37,111.2 338.33,111.2 335.8,100 Q334.2,99 335.8,98 Z" fill="#141414" opacity="1" filter="url(#bl)"/>
<path d="M362.2,98.4 Q373.2,100.8 384.2,98.4 Q385.64,99.3 384.2,100.2 C381.34,109.27 365.06,109.27 362.2,100.2 Q360.76,99.3 362.2,98.4 Z" fill="#141414" opacity="1" filter="url(#bl)"/>
<path d="M391.5,98.8 Q401.55,101.2 411.6,98.8 Q413.04,99.7 411.6,100.6 C408.97,110.2 394.13,110.2 391.5,100.6 Q390.06,99.7 391.5,98.8 Z" fill="#141414" opacity="1" filter="url(#bl)"/>
<path d="M418.3,97.6 Q430.05,100.8 441.8,97.6 Q445,100.8 441.8,104 Q430.05,118.8 418.3,104 Q415.1,100.8 418.3,97.6 Z" fill="url(#ug)" opacity="1" filter="url(#bl)"/>
<path d="M419.25,103 Q430.05,110 440.85,103 Q443.65,104.75 440.85,106.5 Q430.05,115.9 419.25,106.5 Q416.45,104.75 419.25,103 Z" fill="#1c1c1c" opacity="0.7" filter="url(#bl)"/>
<path d="M450.4,97.6 Q462.1,102.1 473.8,94.2 Q477,97.85 473.8,101.5 Q462.1,118.85 450.4,104 Q447.2,100.8 450.4,97.6 Z" fill="url(#ug)" opacity="1" filter="url(#bl)"/>
<path d="M451.5,102.5 Q462,111 472.5,99.5 Q475.7,101.5 472.5,103.5 Q462,116.2 451.5,106.5 Q448.3,104.5 451.5,102.5 Z" fill="#1c1c1c" opacity="0.7" filter="url(#bl)"/>
<ellipse cx="320.3" cy="133" rx="11.3" ry="3" fill="#fafafa" opacity="0.8" filter="url(#bl2)"/>
<ellipse cx="375.4" cy="134.5" rx="11.9" ry="3" fill="#fafafa" opacity="0.8" filter="url(#bl2)"/>
<ellipse cx="431.15" cy="133.8" rx="11.95" ry="3" fill="#fafafa" opacity="0.8" filter="url(#bl2)"/>
<path d="M311,135.6 Q320.3,137.1 329.6,137.4 Q332.8,139.3 329.6,141.2 C327.34,144.57 313.26,144.57 311,140.2 Q307.8,137.9 311,135.6 Z" fill="#0e0e0e" opacity="1" filter="url(#bl)"/>
<path d="M339.7,137.2 Q347.8,137.75 355.9,137.7 Q358.14,139.15 355.9,140.6 Q347.8,140.7 339.7,140 Q337.46,138.6 339.7,137.2 Z" fill="#111" opacity="1" filter="url(#bl)"/>
<path d="M365.5,137.9 Q375.4,139.35 385.3,138.6 Q388.5,140.6 385.3,142.6 C382.44,147.5 368.36,147.5 365.5,142 Q362.3,139.95 365.5,137.9 Z" fill="#0e0e0e" opacity="1" filter="url(#bl)"/>
<path d="M394.95,137.3 Q403.7,137.7 412.45,137.3 Q414.77,138.75 412.45,140.2 Q403.7,140.6 394.95,140.2 Q392.63,138.75 394.95,137.3 Z" fill="#111" opacity="1" filter="url(#bl)"/>
<path d="M421.2,136.9 Q431.15,138.7 441.1,136.9 Q444.3,138.95 441.1,141 C438.23,145.8 424.07,145.8 421.2,141 Q418,138.95 421.2,136.9 Z" fill="#0e0e0e" opacity="1" filter="url(#bl)"/>
<path d="M450.7,136.3 Q460.35,136.3 470,136.3 Q472.24,137.7 470,139.1 Q460.35,139.1 450.7,139.1 Q448.46,137.7 450.7,136.3 Z" fill="#111" opacity="1" filter="url(#bl)"/>
<path d="M313.45,178.9 Q322.15,179.1 330.85,178.9 Q333.49,180.55 330.85,182.2 Q322.15,182.4 313.45,182.2 Q310.81,180.55 313.45,178.9 Z" fill="#181818" opacity="1" filter="url(#bl)"/>
<path d="M342.55,179.6 Q348.85,179.8 355.15,179.6 Q357.15,180.85 355.15,182.1 Q348.85,182.3 342.55,182.1 Q340.55,180.85 342.55,179.6 Z" fill="#222" opacity="0.95" filter="url(#bl)"/>
<path d="M367.1,178.7 Q375.85,178.9 384.6,178.7 Q387.64,180.6 384.6,182.5 Q375.85,182.7 367.1,182.5 Q364.06,180.6 367.1,178.7 Z" fill="#141414" opacity="1" filter="url(#bl)"/>
<path d="M396.15,178.4 Q404.15,178.5 412.15,177.8 Q414.95,179.4 412.15,181 Q404.15,181.75 396.15,181.9 Q393.35,180.15 396.15,178.4 Z" fill="#181818" opacity="1" filter="url(#bl)"/>
<path d="M423.55,177.1 Q432.45,177.35 441.35,176.6 Q444.15,178.3 441.35,180 Q432.45,180.5 423.55,180.6 Q420.75,178.85 423.55,177.1 Z" fill="#181818" opacity="1" filter="url(#bl)"/>
<path d="M451.85,177.1 Q460.95,177.1 470.05,177.1 Q472.69,178.75 470.05,180.4 Q460.95,180.4 451.85,180.4 Q449.21,178.75 451.85,177.1 Z" fill="#181818" opacity="1" filter="url(#bl)"/>
<path d="M312.4,213.8 Q322.35,213.8 332.3,213.8 Q335.5,216.15 332.3,218.5 Q322.35,218.7 312.4,218.5 Q309.2,216.15 312.4,213.8 Z" fill="#141414" opacity="1" filter="url(#bl)"/>
<path d="M341,213.6 Q351.4,214 361.8,212.8 Q365,215.6 361.8,218.4 Q351.4,218.6 341,218.4 Q337.8,216 341,213.6 Z" fill="#181818" opacity="1" filter="url(#bl)"/>
<path d="M369,211.6 Q379,211.2 389,211.6 Q392.2,214.5 389,217.4 Q379,217.8 369,217.4 Q365.8,214.5 369,211.6 Z" fill="#3a3a3a" opacity="0.95" filter="url(#bl)"/>
<path d="M395.5,212.2 Q405.45,212.2 415.4,212.2 Q418.6,215 415.4,217.8 Q405.45,218.2 395.5,217.8 Q392.3,215 395.5,212.2 Z" fill="#383838" opacity="0.95" filter="url(#bl)"/>
<path d="M423,212.2 Q432.5,212.2 442,212.2 Q445.2,215 442,217.8 Q432.5,218.2 423,217.8 Q419.8,215 423,212.2 Z" fill="#4a4a4a" opacity="0.92" filter="url(#bl)"/>
<path d="M449.5,211.4 Q459.45,211.4 469.4,211.4 Q472.6,214.4 469.4,217.4 Q459.45,217.8 449.5,217.4 Q446.3,214.4 449.5,211.4 Z" fill="#343434" opacity="0.95" filter="url(#bl)"/>
<line x1="300.6" y1="82.1" x2="370.5" y2="82.1" stroke="#444" stroke-width="1.2" />
<line x1="408.5" y1="82.1" x2="478.3" y2="82.1" stroke="#444" stroke-width="1.2" />
<text x="389.5" y="85.1" font-size="8.6" text-anchor="middle" font-weight="normal" fill="#111" >α-STAT3</text>
<line x1="300.6" y1="120.7" x2="370.5" y2="120.7" stroke="#444" stroke-width="1.2" />
<line x1="408.5" y1="120.7" x2="478.3" y2="120.7" stroke="#444" stroke-width="1.2" />
<text x="389.5" y="123.7" font-size="8.6" text-anchor="middle" font-weight="normal" fill="#111" >α-STAT5</text>
<line x1="300.6" y1="158.4" x2="375.5" y2="158.4" stroke="#444" stroke-width="1.2" />
<line x1="403.5" y1="158.4" x2="478.3" y2="158.4" stroke="#444" stroke-width="1.2" />
<text x="389.5" y="161.4" font-size="8.6" text-anchor="middle" font-weight="normal" fill="#111" >α-Syk</text>
<line x1="300.6" y1="196.7" x2="371" y2="196.7" stroke="#444" stroke-width="1.2" />
<line x1="408" y1="196.7" x2="478.3" y2="196.7" stroke="#444" stroke-width="1.2" />
<text x="389.5" y="199.7" font-size="8.6" text-anchor="middle" font-weight="normal" fill="#111" >α-Socs3</text>
<line x1="300.6" y1="233.1" x2="372.5" y2="233.1" stroke="#444" stroke-width="1.2" />
<line x1="406.5" y1="233.1" x2="478.3" y2="233.1" stroke="#444" stroke-width="1.2" />
<text x="389.5" y="236.1" font-size="8.6" text-anchor="middle" font-weight="normal" fill="#111" >α-actin</text>
<text transform="translate(284.4,74) scale(0.86,1)" font-size="10.2" text-anchor="middle" fill="#111">70</text>
<line x1="291.6" y1="70" x2="295.8" y2="70" stroke="#222" stroke-width="1.2" />
<text transform="translate(284.4,112.7) scale(0.86,1)" font-size="10.2" text-anchor="middle" fill="#111">80</text>
<line x1="291.6" y1="108.7" x2="295.8" y2="108.7" stroke="#222" stroke-width="1.2" />
<text transform="translate(284.4,148.6) scale(0.86,1)" font-size="10.2" text-anchor="middle" fill="#111">60</text>
<line x1="291.6" y1="144.6" x2="295.8" y2="144.6" stroke="#222" stroke-width="1.2" />
<text transform="translate(284.4,187.1) scale(0.86,1)" font-size="10.2" text-anchor="middle" fill="#111">20</text>
<line x1="291.6" y1="183.1" x2="295.8" y2="183.1" stroke="#222" stroke-width="1.2" />
<text transform="translate(284.4,225.4) scale(0.86,1)" font-size="10.2" text-anchor="middle" fill="#111">40</text>
<line x1="291.6" y1="221.4" x2="295.8" y2="221.4" stroke="#222" stroke-width="1.2" />
<text x="323" y="250.3" font-size="10.5" text-anchor="middle" font-weight="normal" fill="#111" >1</text>
<text x="350.8" y="250.3" font-size="10.5" text-anchor="middle" font-weight="normal" fill="#111" >2</text>
<text x="376.9" y="250.3" font-size="10.5" text-anchor="middle" font-weight="normal" fill="#111" >3</text>
<text x="405.8" y="250.3" font-size="10.5" text-anchor="middle" font-weight="normal" fill="#111" >4</text>
<text x="432.7" y="250.3" font-size="10.5" text-anchor="middle" font-weight="normal" fill="#111" >5</text>
<text x="459.6" y="250.3" font-size="10.5" text-anchor="middle" font-weight="normal" fill="#111" >6</text>
<text x="2.6" y="264.8" font-size="16.4" text-anchor="start" font-weight="bold" fill="#000" style="stroke:#000;stroke-width:0.55px">C</text>
<line x1="35.2" y1="270.3" x2="35.2" y2="400.8" stroke="#9a9a9a" stroke-width="1.1" />
<line x1="31.8" y1="400.8" x2="35.2" y2="400.8" stroke="#9a9a9a" stroke-width="1" />
<text x="28.8" y="404.8" font-size="10" text-anchor="end" font-weight="normal" fill="#111" >0</text>
<line x1="31.8" y1="357.8" x2="35.2" y2="357.8" stroke="#9a9a9a" stroke-width="1" />
<text x="28.8" y="361.8" font-size="10" text-anchor="end" font-weight="normal" fill="#111" >10</text>
<line x1="31.8" y1="314.8" x2="35.2" y2="314.8" stroke="#9a9a9a" stroke-width="1" />
<text x="28.8" y="318.8" font-size="10" text-anchor="end" font-weight="normal" fill="#111" >20</text>
<line x1="31.8" y1="271.8" x2="35.2" y2="271.8" stroke="#9a9a9a" stroke-width="1" />
<text x="28.8" y="275.8" font-size="10" text-anchor="end" font-weight="normal" fill="#111" >30</text>
<line x1="32.6" y1="400.8" x2="174.2" y2="400.8" stroke="#9a9a9a" stroke-width="1.1" />
<line x1="179" y1="400.8" x2="219.2" y2="400.8" stroke="#9a9a9a" stroke-width="1.1" />
<line x1="173.1" y1="405.1" x2="175.9" y2="396.5" stroke="#8a8a8a" stroke-width="0.9" />
<line x1="177.3" y1="405.1" x2="180.1" y2="396.5" stroke="#8a8a8a" stroke-width="0.9" />
<line x1="58.2" y1="400.8" x2="58.2" y2="405.8" stroke="#8a8a8a" stroke-width="0.9" />
<text x="58.2" y="416.2" font-size="10.2" text-anchor="middle" font-weight="normal" fill="#111" >0</text>
<line x1="104.2" y1="400.8" x2="104.2" y2="405.8" stroke="#8a8a8a" stroke-width="0.9" />
<text x="104.2" y="416.2" font-size="10.2" text-anchor="middle" font-weight="normal" fill="#111" >2</text>
<line x1="150.4" y1="400.8" x2="150.4" y2="405.8" stroke="#8a8a8a" stroke-width="0.9" />
<text x="150.4" y="416.2" font-size="10.2" text-anchor="middle" font-weight="normal" fill="#111" >4</text>
<line x1="196.2" y1="400.8" x2="196.2" y2="405.8" stroke="#8a8a8a" stroke-width="0.9" />
<text x="196.2" y="416.2" font-size="10.2" text-anchor="middle" font-weight="normal" fill="#111" >7</text>
<polyline points="58.2,287.8 104.2,290 150.4,292.6 196.2,294.3" fill="none" stroke="#111111" stroke-width="1.5" stroke-linejoin="round" />
<path d="M58.2,283.5 L62.5,287.8 L58.2,292.1 L53.9,287.8 Z" fill="#111111"/>
<path d="M104.2,285.7 L108.5,290 L104.2,294.3 L99.9,290 Z" fill="#111111"/>
<path d="M150.4,288.3 L154.7,292.6 L150.4,296.9 L146.1,292.6 Z" fill="#111111"/>
<path d="M196.2,290 L200.5,294.3 L196.2,298.6 L191.9,294.3 Z" fill="#111111"/>
<polyline points="58.2,364.7 104.2,366.3 150.4,363.7 196.2,364.4" fill="none" stroke="#cc3b3b" stroke-width="1.5" stroke-linejoin="round" />
<path d="M58.2,360.75 L62,367.33 L54.4,367.33 Z" fill="#cc3b3b"/>
<path d="M104.2,362.35 L108,368.93 L100.4,368.93 Z" fill="#cc3b3b"/>
<path d="M150.4,359.75 L154.2,366.33 L146.6,366.33 Z" fill="#cc3b3b"/>
<path d="M196.2,360.45 L200,367.03 L192.4,367.03 Z" fill="#cc3b3b"/>
<polyline points="58.2,378.8 104.2,378.4 150.4,377.8 196.2,375.5" fill="none" stroke="#4459a8" stroke-width="1.5" stroke-linejoin="round" />
<rect x="55.1" y="375.7" width="6.2" height="6.2" fill="#4459a8"/>
<rect x="101.1" y="375.3" width="6.2" height="6.2" fill="#4459a8"/>
<rect x="147.3" y="374.7" width="6.2" height="6.2" fill="#4459a8"/>
<rect x="193.1" y="372.4" width="6.2" height="6.2" fill="#4459a8"/>
<text x="123.9" y="279.6" font-size="9.4" text-anchor="middle" font-weight="normal" fill="#111" >Control</text>
<text x="128" y="429.6" font-size="9.2" text-anchor="middle" font-weight="normal" fill="#111" >Days of cell culture</text>
<text transform="translate(8.3,336.1) rotate(-90)" font-size="9.1" text-anchor="middle" fill="#111">Percent EGFP-positive cells</text>
<line x1="251" y1="269.7" x2="251" y2="400.3" stroke="#9a9a9a" stroke-width="1.1" />
<line x1="247.6" y1="400.3" x2="251" y2="400.3" stroke="#9a9a9a" stroke-width="1" />
<text x="245.2" y="405.1" font-size="10" text-anchor="end" font-weight="normal" fill="#111" >0</text>
<line x1="247.6" y1="374.2" x2="251" y2="374.2" stroke="#9a9a9a" stroke-width="1" />
<text x="245.2" y="379" font-size="10" text-anchor="end" font-weight="normal" fill="#111" >5</text>
<line x1="247.6" y1="348.1" x2="251" y2="348.1" stroke="#9a9a9a" stroke-width="1" />
<text x="245.2" y="352.9" font-size="10" text-anchor="end" font-weight="normal" fill="#111" >10</text>
<line x1="247.6" y1="322" x2="251" y2="322" stroke="#9a9a9a" stroke-width="1" />
<text x="245.2" y="326.8" font-size="10" text-anchor="end" font-weight="normal" fill="#111" >15</text>
<line x1="247.6" y1="295.9" x2="251" y2="295.9" stroke="#9a9a9a" stroke-width="1" />
<text x="245.2" y="300.7" font-size="10" text-anchor="end" font-weight="normal" fill="#111" >20</text>
<line x1="247.6" y1="269.8" x2="251" y2="269.8" stroke="#9a9a9a" stroke-width="1" />
<text x="245.2" y="274.6" font-size="10" text-anchor="end" font-weight="normal" fill="#111" >25</text>
<line x1="248.4" y1="400.3" x2="390.2" y2="400.3" stroke="#9a9a9a" stroke-width="1.1" />
<line x1="395" y1="400.3" x2="434.8" y2="400.3" stroke="#9a9a9a" stroke-width="1.1" />
<line x1="389.1" y1="404.6" x2="391.9" y2="396" stroke="#8a8a8a" stroke-width="0.9" />
<line x1="393.3" y1="404.6" x2="396.1" y2="396" stroke="#8a8a8a" stroke-width="0.9" />
<line x1="273.4" y1="400.3" x2="273.4" y2="405.3" stroke="#8a8a8a" stroke-width="0.9" />
<text x="273.4" y="415.7" font-size="10.2" text-anchor="middle" font-weight="normal" fill="#111" >0</text>
<line x1="319.3" y1="400.3" x2="319.3" y2="405.3" stroke="#8a8a8a" stroke-width="0.9" />
<text x="319.3" y="415.7" font-size="10.2" text-anchor="middle" font-weight="normal" fill="#111" >2</text>
<line x1="365.1" y1="400.3" x2="365.1" y2="405.3" stroke="#8a8a8a" stroke-width="0.9" />
<text x="365.1" y="415.7" font-size="10.2" text-anchor="middle" font-weight="normal" fill="#111" >4</text>
<line x1="410.7" y1="400.3" x2="410.7" y2="405.3" stroke="#8a8a8a" stroke-width="0.9" />
<text x="410.7" y="415.7" font-size="10.2" text-anchor="middle" font-weight="normal" fill="#111" >7</text>
<line x1="319.3" y1="389" x2="319.3" y2="384.6" stroke="#3c3c3c" stroke-width="1.15" />
<line x1="316.9" y1="384.6" x2="321.7" y2="384.6" stroke="#3c3c3c" stroke-width="1.15" />
<line x1="365.1" y1="366" x2="365.1" y2="360.4" stroke="#3c3c3c" stroke-width="1.15" />
<line x1="362.7" y1="360.4" x2="367.5" y2="360.4" stroke="#3c3c3c" stroke-width="1.15" />
<line x1="410.7" y1="303" x2="410.7" y2="291.3" stroke="#3c3c3c" stroke-width="1.15" />
<line x1="408.3" y1="291.3" x2="413.1" y2="291.3" stroke="#3c3c3c" stroke-width="1.15" />
<polyline points="273.4,395.6 319.3,392 365.1,370.8 410.7,317.5" fill="none" stroke="#4459a8" stroke-width="1.5" stroke-linejoin="round" />
<rect x="270.4" y="392.6" width="6" height="6" fill="#4459a8"/>
<rect x="316.3" y="389" width="6" height="6" fill="#4459a8"/>
<rect x="362.1" y="367.8" width="6" height="6" fill="#4459a8"/>
<rect x="407.7" y="314.5" width="6" height="6" fill="#4459a8"/>
<polyline points="273.4,395.2 319.3,390.4 365.1,368.4 410.7,310.2" fill="none" stroke="#111111" stroke-width="1.5" stroke-linejoin="round" />
<path d="M273.4,391 L277.6,395.2 L273.4,399.4 L269.2,395.2 Z" fill="#111111"/>
<path d="M319.3,386.2 L323.5,390.4 L319.3,394.6 L315.1,390.4 Z" fill="#111111"/>
<path d="M365.1,364.2 L369.3,368.4 L365.1,372.6 L360.9,368.4 Z" fill="#111111"/>
<path d="M410.7,306 L414.9,310.2 L410.7,314.4 L406.5,310.2 Z" fill="#111111"/>
<polyline points="273.4,395 319.3,389.2 365.1,366.2 410.7,303.7" fill="none" stroke="#cc3b3b" stroke-width="1.5" stroke-linejoin="round" />
<path d="M273.4,391.15 L277.1,397.56 L269.7,397.56 Z" fill="#cc3b3b"/>
<path d="M319.3,385.35 L323,391.76 L315.6,391.76 Z" fill="#cc3b3b"/>
<path d="M365.1,362.35 L368.8,368.76 L361.4,368.76 Z" fill="#cc3b3b"/>
<path d="M410.7,299.85 L414.4,306.26 L407,306.26 Z" fill="#cc3b3b"/>
<text x="344.5" y="279.7" font-size="9.4" text-anchor="middle" font-weight="normal" fill="#111" >Control</text>
<text x="345.7" y="428.7" font-size="9.2" text-anchor="middle" font-weight="normal" fill="#111" >Days of cell culture</text>
<text transform="translate(229.2,332.8) rotate(-90)" font-size="8.8" text-anchor="middle" fill="#111">Cell number [×10<tspan font-size="5.8" dy="-3">6</tspan><tspan dy="3"> cells]</tspan></text>
<line x1="441" y1="320" x2="455.2" y2="320" stroke="#111111" stroke-width="1.4" />
<path d="M448.1,317.2 L450.9,320 L448.1,322.8 L445.3,320 Z" fill="#111111"/>
<text x="461.3" y="323.5" font-size="8.3" text-anchor="start" font-weight="normal" fill="#111" style="stroke-width:0.4px">EGFP</text>
<line x1="441" y1="333" x2="455.2" y2="333" stroke="#4459a8" stroke-width="1.4" />
<rect x="445.9" y="330.8" width="4.4" height="4.4" fill="#4459a8"/>
<text x="461.3" y="336.5" font-size="8.3" text-anchor="start" font-weight="normal" fill="#111" style="stroke-width:0.4px">caSTAT3/EGFP</text>
<line x1="441" y1="345.7" x2="455.2" y2="345.7" stroke="#cc3b3b" stroke-width="1.4" />
<path d="M448.1,343 L450.7,347.5 L445.5,347.5 Z" fill="#cc3b3b"/>
<text x="461.3" y="349.2" font-size="8.3" text-anchor="start" font-weight="normal" fill="#111" style="stroke-width:0.4px">caSTAT5/EGFP</text>
<text x="2.6" y="447.6" font-size="16.4" text-anchor="start" font-weight="bold" fill="#000" style="stroke:#000;stroke-width:0.55px">D</text>
<line x1="35.3" y1="454.6" x2="35.3" y2="584.8" stroke="#9a9a9a" stroke-width="1.1" />
<line x1="31.9" y1="584.8" x2="35.3" y2="584.8" stroke="#9a9a9a" stroke-width="1" />
<text x="28.9" y="588.8" font-size="10" text-anchor="end" font-weight="normal" fill="#111" >0</text>
<line x1="31.9" y1="563.13" x2="35.3" y2="563.13" stroke="#9a9a9a" stroke-width="1" />
<text x="28.9" y="567.13" font-size="10" text-anchor="end" font-weight="normal" fill="#111" >20</text>
<line x1="31.9" y1="541.47" x2="35.3" y2="541.47" stroke="#9a9a9a" stroke-width="1" />
<text x="28.9" y="545.47" font-size="10" text-anchor="end" font-weight="normal" fill="#111" >40</text>
<line x1="31.9" y1="519.8" x2="35.3" y2="519.8" stroke="#9a9a9a" stroke-width="1" />
<text x="28.9" y="523.8" font-size="10" text-anchor="end" font-weight="normal" fill="#111" >60</text>
<line x1="31.9" y1="498.14" x2="35.3" y2="498.14" stroke="#9a9a9a" stroke-width="1" />
<text x="28.9" y="502.14" font-size="10" text-anchor="end" font-weight="normal" fill="#111" >80</text>
<line x1="31.9" y1="476.47" x2="35.3" y2="476.47" stroke="#9a9a9a" stroke-width="1" />
<text x="28.9" y="480.47" font-size="10" text-anchor="end" font-weight="normal" fill="#111" >100</text>
<line x1="31.9" y1="454.8" x2="35.3" y2="454.8" stroke="#9a9a9a" stroke-width="1" />
<text x="28.9" y="458.8" font-size="10" text-anchor="end" font-weight="normal" fill="#111" >120</text>
<line x1="32.7" y1="584.8" x2="174.6" y2="584.8" stroke="#9a9a9a" stroke-width="1.1" />
<line x1="179.4" y1="584.8" x2="219.2" y2="584.8" stroke="#9a9a9a" stroke-width="1.1" />
<line x1="173.5" y1="589.1" x2="176.3" y2="580.5" stroke="#8a8a8a" stroke-width="0.9" />
<line x1="177.7" y1="589.1" x2="180.5" y2="580.5" stroke="#8a8a8a" stroke-width="0.9" />
<line x1="58.6" y1="584.8" x2="58.6" y2="589.8" stroke="#8a8a8a" stroke-width="0.9" />
<text x="58.6" y="600.2" font-size="10.2" text-anchor="middle" font-weight="normal" fill="#111" >0</text>
<line x1="104.6" y1="584.8" x2="104.6" y2="589.8" stroke="#8a8a8a" stroke-width="0.9" />
<text x="104.6" y="600.2" font-size="10.2" text-anchor="middle" font-weight="normal" fill="#111" >2</text>
<line x1="150.8" y1="584.8" x2="150.8" y2="589.8" stroke="#8a8a8a" stroke-width="0.9" />
<text x="150.8" y="600.2" font-size="10.2" text-anchor="middle" font-weight="normal" fill="#111" >4</text>
<line x1="197.4" y1="584.8" x2="197.4" y2="589.8" stroke="#8a8a8a" stroke-width="0.9" />
<text x="197.4" y="600.2" font-size="10.2" text-anchor="middle" font-weight="normal" fill="#111" >7</text>
<line x1="150.8" y1="555" x2="150.8" y2="547.5" stroke="#3c3c3c" stroke-width="1.15" />
<line x1="148.4" y1="547.5" x2="153.2" y2="547.5" stroke="#3c3c3c" stroke-width="1.15" />
<line x1="197.4" y1="485" x2="197.4" y2="467.9" stroke="#3c3c3c" stroke-width="1.15" />
<line x1="195" y1="467.9" x2="199.8" y2="467.9" stroke="#3c3c3c" stroke-width="1.15" />
<line x1="197.4" y1="507" x2="197.4" y2="493.8" stroke="#3c3c3c" stroke-width="1.15" />
<line x1="195" y1="493.8" x2="199.8" y2="493.8" stroke="#3c3c3c" stroke-width="1.15" />
<polyline points="58.6,557.6 104.6,558.9 150.8,559.6 197.4,558.9" fill="none" stroke="#111111" stroke-width="1.5" stroke-linejoin="round" />
<path d="M58.6,553.3 L62.9,557.6 L58.6,561.9 L54.3,557.6 Z" fill="#111111"/>
<path d="M104.6,554.6 L108.9,558.9 L104.6,563.2 L100.3,558.9 Z" fill="#111111"/>
<path d="M150.8,555.3 L155.1,559.6 L150.8,563.9 L146.5,559.6 Z" fill="#111111"/>
<path d="M197.4,554.6 L201.7,558.9 L197.4,563.2 L193.1,558.9 Z" fill="#111111"/>
<polyline points="58.6,575.2 104.6,568.3 150.8,554.4 197.4,485.2" fill="none" stroke="#cc3b3b" stroke-width="1.5" stroke-linejoin="round" />
<path d="M58.6,571.25 L62.4,577.83 L54.8,577.83 Z" fill="#cc3b3b"/>
<path d="M104.6,564.35 L108.4,570.93 L100.8,570.93 Z" fill="#cc3b3b"/>
<path d="M150.8,550.45 L154.6,557.03 L147,557.03 Z" fill="#cc3b3b"/>
<path d="M197.4,481.25 L201.2,487.83 L193.6,487.83 Z" fill="#cc3b3b"/>
<polyline points="58.6,581 104.6,572.8 150.8,560.3 197.4,507.3" fill="none" stroke="#4459a8" stroke-width="1.5" stroke-linejoin="round" />
<rect x="55.5" y="577.9" width="6.2" height="6.2" fill="#4459a8"/>
<rect x="101.5" y="569.7" width="6.2" height="6.2" fill="#4459a8"/>
<rect x="147.7" y="557.2" width="6.2" height="6.2" fill="#4459a8"/>
<rect x="194.3" y="504.2" width="6.2" height="6.2" fill="#4459a8"/>
<text x="126.9" y="471.9" font-size="9.4" text-anchor="middle" font-weight="normal" fill="#111" >Bay-613606</text>
<text x="128.3" y="611.4" font-size="9.2" text-anchor="middle" font-weight="normal" fill="#111" >Days of Syk inhibition</text>
<text transform="translate(8.3,519.9) rotate(-90)" font-size="9.1" text-anchor="middle" fill="#111">Percent EGFP-positive cells</text>
<line x1="252.8" y1="452.3" x2="252.8" y2="585.6" stroke="#9a9a9a" stroke-width="1.1" />
<line x1="249.4" y1="585.6" x2="252.8" y2="585.6" stroke="#9a9a9a" stroke-width="1" />
<text x="247" y="590.4" font-size="10" text-anchor="end" font-weight="normal" fill="#111" >0</text>
<line x1="249.4" y1="563.4" x2="252.8" y2="563.4" stroke="#9a9a9a" stroke-width="1" />
<text x="247" y="568.2" font-size="10" text-anchor="end" font-weight="normal" fill="#111" >2</text>
<line x1="249.4" y1="541.2" x2="252.8" y2="541.2" stroke="#9a9a9a" stroke-width="1" />
<text x="247" y="546" font-size="10" text-anchor="end" font-weight="normal" fill="#111" >4</text>
<line x1="249.4" y1="519" x2="252.8" y2="519" stroke="#9a9a9a" stroke-width="1" />
<text x="247" y="523.8" font-size="10" text-anchor="end" font-weight="normal" fill="#111" >6</text>
<line x1="249.4" y1="496.8" x2="252.8" y2="496.8" stroke="#9a9a9a" stroke-width="1" />
<text x="247" y="501.6" font-size="10" text-anchor="end" font-weight="normal" fill="#111" >8</text>
<line x1="249.4" y1="474.6" x2="252.8" y2="474.6" stroke="#9a9a9a" stroke-width="1" />
<text x="247" y="479.4" font-size="10" text-anchor="end" font-weight="normal" fill="#111" >10</text>
<line x1="249.4" y1="452.4" x2="252.8" y2="452.4" stroke="#9a9a9a" stroke-width="1" />
<text x="247" y="457.2" font-size="10" text-anchor="end" font-weight="normal" fill="#111" >12</text>
<line x1="250.2" y1="585.6" x2="392.2" y2="585.6" stroke="#9a9a9a" stroke-width="1.1" />
<line x1="397" y1="585.6" x2="434.8" y2="585.6" stroke="#9a9a9a" stroke-width="1.1" />
<line x1="391.1" y1="589.9" x2="393.9" y2="581.3" stroke="#8a8a8a" stroke-width="0.9" />
<line x1="395.3" y1="589.9" x2="398.1" y2="581.3" stroke="#8a8a8a" stroke-width="0.9" />
<line x1="275.5" y1="585.6" x2="275.5" y2="590.6" stroke="#8a8a8a" stroke-width="0.9" />
<text x="275.5" y="601" font-size="10.2" text-anchor="middle" font-weight="normal" fill="#111" >0</text>
<line x1="320.9" y1="585.6" x2="320.9" y2="590.6" stroke="#8a8a8a" stroke-width="0.9" />
<text x="320.9" y="601" font-size="10.2" text-anchor="middle" font-weight="normal" fill="#111" >2</text>
<line x1="366.6" y1="585.6" x2="366.6" y2="590.6" stroke="#8a8a8a" stroke-width="0.9" />
<text x="366.6" y="601" font-size="10.2" text-anchor="middle" font-weight="normal" fill="#111" >4</text>
<line x1="411.6" y1="585.6" x2="411.6" y2="590.6" stroke="#8a8a8a" stroke-width="0.9" />
<text x="411.6" y="601" font-size="10.2" text-anchor="middle" font-weight="normal" fill="#111" >7</text>
<line x1="366.6" y1="556" x2="366.6" y2="548.6" stroke="#3c3c3c" stroke-width="1.15" />
<line x1="364.2" y1="548.6" x2="369" y2="548.6" stroke="#3c3c3c" stroke-width="1.15" />
<line x1="411.6" y1="483" x2="411.6" y2="466.8" stroke="#3c3c3c" stroke-width="1.15" />
<line x1="409.2" y1="466.8" x2="414" y2="466.8" stroke="#3c3c3c" stroke-width="1.15" />
<line x1="411.6" y1="556.9" x2="411.6" y2="544.6" stroke="#3c3c3c" stroke-width="1.15" />
<line x1="409.2" y1="544.6" x2="414" y2="544.6" stroke="#3c3c3c" stroke-width="1.15" />
<polyline points="275.5,575.4 320.9,569.5 366.6,559.1 411.6,499.4" fill="none" stroke="#4459a8" stroke-width="1.5" stroke-linejoin="round" />
<rect x="272.5" y="572.4" width="6" height="6" fill="#4459a8"/>
<rect x="317.9" y="566.5" width="6" height="6" fill="#4459a8"/>
<rect x="363.6" y="556.1" width="6" height="6" fill="#4459a8"/>
<rect x="408.6" y="496.4" width="6" height="6" fill="#4459a8"/>
<polyline points="275.5,575.6 320.9,571.4 366.6,566.8 411.6,556.9" fill="none" stroke="#111111" stroke-width="1.5" stroke-linejoin="round" />
<path d="M275.5,571.4 L279.7,575.6 L275.5,579.8 L271.3,575.6 Z" fill="#111111"/>
<path d="M320.9,567.2 L325.1,571.4 L320.9,575.6 L316.7,571.4 Z" fill="#111111"/>
<path d="M366.6,562.6 L370.8,566.8 L366.6,571 L362.4,566.8 Z" fill="#111111"/>
<path d="M411.6,552.7 L415.8,556.9 L411.6,561.1 L407.4,556.9 Z" fill="#111111"/>
<polyline points="275.5,575.4 320.9,568.6 366.6,556 411.6,483.1" fill="none" stroke="#cc3b3b" stroke-width="1.5" stroke-linejoin="round" />
<path d="M275.5,571.55 L279.2,577.96 L271.8,577.96 Z" fill="#cc3b3b"/>
<path d="M320.9,564.75 L324.6,571.16 L317.2,571.16 Z" fill="#cc3b3b"/>
<path d="M366.6,552.15 L370.3,558.56 L362.9,558.56 Z" fill="#cc3b3b"/>
<path d="M411.6,479.25 L415.3,485.66 L407.9,485.66 Z" fill="#cc3b3b"/>
<text x="345.4" y="471.7" font-size="9.4" text-anchor="middle" font-weight="normal" fill="#111" >Bay-613606</text>
<text x="345.9" y="612.2" font-size="9.2" text-anchor="middle" font-weight="normal" fill="#111" >Days of Syk inhibition</text>
<text transform="translate(229.2,517.6) rotate(-90)" font-size="8.8" text-anchor="middle" fill="#111">Cell number [×10<tspan font-size="5.8" dy="-3">6</tspan><tspan dy="3"> cells]</tspan></text>
<line x1="441" y1="507.1" x2="455.2" y2="507.1" stroke="#111111" stroke-width="1.4" />
<path d="M448.1,504.3 L450.9,507.1 L448.1,509.9 L445.3,507.1 Z" fill="#111111"/>
<text x="461.3" y="510.6" font-size="8.3" text-anchor="start" font-weight="normal" fill="#111" style="stroke-width:0.4px">EGFP</text>
<line x1="441" y1="520.1" x2="455.2" y2="520.1" stroke="#4459a8" stroke-width="1.4" />
<rect x="445.9" y="517.9" width="4.4" height="4.4" fill="#4459a8"/>
<text x="461.3" y="523.6" font-size="8.3" text-anchor="start" font-weight="normal" fill="#111" style="stroke-width:0.4px">caSTAT3/EGFP</text>
<line x1="441" y1="532.2" x2="455.2" y2="532.2" stroke="#cc3b3b" stroke-width="1.4" />
<path d="M448.1,529.5 L450.7,534 L445.5,534 Z" fill="#cc3b3b"/>
<text x="461.3" y="535.7" font-size="8.3" text-anchor="start" font-weight="normal" fill="#111" style="stroke-width:0.4px">caSTAT5/EGFP</text>
<text x="3" y="631.8" font-size="16.4" text-anchor="start" font-weight="bold" fill="#000" style="stroke:#000;stroke-width:0.55px">E</text>
<line x1="35.7" y1="632.2" x2="35.7" y2="767" stroke="#9a9a9a" stroke-width="1.1" />
<line x1="32.3" y1="767" x2="35.7" y2="767" stroke="#9a9a9a" stroke-width="1" />
<text x="29.3" y="771" font-size="10" text-anchor="end" font-weight="normal" fill="#111" >0</text>
<line x1="32.3" y1="737.17" x2="35.7" y2="737.17" stroke="#9a9a9a" stroke-width="1" />
<text x="29.3" y="741.17" font-size="10" text-anchor="end" font-weight="normal" fill="#111" >20</text>
<line x1="32.3" y1="707.35" x2="35.7" y2="707.35" stroke="#9a9a9a" stroke-width="1" />
<text x="29.3" y="711.35" font-size="10" text-anchor="end" font-weight="normal" fill="#111" >40</text>
<line x1="32.3" y1="677.52" x2="35.7" y2="677.52" stroke="#9a9a9a" stroke-width="1" />
<text x="29.3" y="681.52" font-size="10" text-anchor="end" font-weight="normal" fill="#111" >60</text>
<line x1="32.3" y1="647.7" x2="35.7" y2="647.7" stroke="#9a9a9a" stroke-width="1" />
<text x="29.3" y="651.7" font-size="10" text-anchor="end" font-weight="normal" fill="#111" >80</text>
<line x1="33.1" y1="767" x2="175.6" y2="767" stroke="#9a9a9a" stroke-width="1.1" />
<line x1="180.4" y1="767" x2="219.2" y2="767" stroke="#9a9a9a" stroke-width="1.1" />
<line x1="174.5" y1="771.3" x2="177.3" y2="762.7" stroke="#8a8a8a" stroke-width="0.9" />
<line x1="178.7" y1="771.3" x2="181.5" y2="762.7" stroke="#8a8a8a" stroke-width="0.9" />
<line x1="58.6" y1="767" x2="58.6" y2="772" stroke="#8a8a8a" stroke-width="0.9" />
<text x="58.6" y="782.4" font-size="10.2" text-anchor="middle" font-weight="normal" fill="#111" >0</text>
<line x1="104.7" y1="767" x2="104.7" y2="772" stroke="#8a8a8a" stroke-width="0.9" />
<text x="104.7" y="782.4" font-size="10.2" text-anchor="middle" font-weight="normal" fill="#111" >2</text>
<line x1="150.5" y1="767" x2="150.5" y2="772" stroke="#8a8a8a" stroke-width="0.9" />
<text x="150.5" y="782.4" font-size="10.2" text-anchor="middle" font-weight="normal" fill="#111" >4</text>
<line x1="196.4" y1="767" x2="196.4" y2="772" stroke="#8a8a8a" stroke-width="0.9" />
<text x="196.4" y="782.4" font-size="10.2" text-anchor="middle" font-weight="normal" fill="#111" >7</text>
<line x1="104.7" y1="735" x2="104.7" y2="731.5" stroke="#3c3c3c" stroke-width="1.15" />
<line x1="102.3" y1="731.5" x2="107.1" y2="731.5" stroke="#3c3c3c" stroke-width="1.15" />
<line x1="150.5" y1="720" x2="150.5" y2="701.9" stroke="#3c3c3c" stroke-width="1.15" />
<line x1="148.1" y1="701.9" x2="152.9" y2="701.9" stroke="#3c3c3c" stroke-width="1.15" />
<line x1="150.5" y1="732" x2="150.5" y2="711.9" stroke="#3c3c3c" stroke-width="1.15" />
<line x1="148.1" y1="711.9" x2="152.9" y2="711.9" stroke="#3c3c3c" stroke-width="1.15" />
<line x1="196.4" y1="671" x2="196.4" y2="642.8" stroke="#3c3c3c" stroke-width="1.15" />
<line x1="194" y1="642.8" x2="198.8" y2="642.8" stroke="#3c3c3c" stroke-width="1.15" />
<line x1="196.4" y1="696" x2="196.4" y2="663.5" stroke="#3c3c3c" stroke-width="1.15" />
<line x1="194" y1="663.5" x2="198.8" y2="663.5" stroke="#3c3c3c" stroke-width="1.15" />
<polyline points="58.6,738 104.7,735.2 150.5,736.3 196.4,738.6" fill="none" stroke="#111111" stroke-width="1.5" stroke-linejoin="round" />
<path d="M58.6,733.7 L62.9,738 L58.6,742.3 L54.3,738 Z" fill="#111111"/>
<path d="M104.7,730.9 L109,735.2 L104.7,739.5 L100.4,735.2 Z" fill="#111111"/>
<path d="M150.5,732 L154.8,736.3 L150.5,740.6 L146.2,736.3 Z" fill="#111111"/>
<path d="M196.4,734.3 L200.7,738.6 L196.4,742.9 L192.1,738.6 Z" fill="#111111"/>
<polyline points="58.6,753.5 104.7,743.1 150.5,720.3 196.4,671.6" fill="none" stroke="#cc3b3b" stroke-width="1.5" stroke-linejoin="round" />
<path d="M58.6,749.55 L62.4,756.13 L54.8,756.13 Z" fill="#cc3b3b"/>
<path d="M104.7,739.15 L108.5,745.73 L100.9,745.73 Z" fill="#cc3b3b"/>
<path d="M150.5,716.35 L154.3,722.93 L146.7,722.93 Z" fill="#cc3b3b"/>
<path d="M196.4,667.65 L200.2,674.23 L192.6,674.23 Z" fill="#cc3b3b"/>
<polyline points="58.6,759.4 104.7,750.1 150.5,732.7 196.4,696.6" fill="none" stroke="#4459a8" stroke-width="1.5" stroke-linejoin="round" />
<rect x="55.5" y="756.3" width="6.2" height="6.2" fill="#4459a8"/>
<rect x="101.6" y="747" width="6.2" height="6.2" fill="#4459a8"/>
<rect x="147.4" y="729.6" width="6.2" height="6.2" fill="#4459a8"/>
<rect x="193.3" y="693.5" width="6.2" height="6.2" fill="#4459a8"/>
<text x="125.9" y="660.8" font-size="9.8" text-anchor="middle" font-weight="normal" fill="#111" >Syk knock down</text>
<text x="128" y="793.1" font-size="9.2" text-anchor="middle" font-weight="normal" fill="#111" >Days of cell culture</text>
<text transform="translate(8.3,700.3) rotate(-90)" font-size="9.1" text-anchor="middle" fill="#111">Percent EGFP-positive cells</text>
<line x1="253.4" y1="633.8" x2="253.4" y2="767" stroke="#9a9a9a" stroke-width="1.1" />
<line x1="250" y1="767" x2="253.4" y2="767" stroke="#9a9a9a" stroke-width="1" />
<text x="247.6" y="771.8" font-size="10" text-anchor="end" font-weight="normal" fill="#111" >0</text>
<line x1="250" y1="740.32" x2="253.4" y2="740.32" stroke="#9a9a9a" stroke-width="1" />
<text x="247.6" y="745.12" font-size="10" text-anchor="end" font-weight="normal" fill="#111" >2</text>
<line x1="250" y1="713.64" x2="253.4" y2="713.64" stroke="#9a9a9a" stroke-width="1" />
<text x="247.6" y="718.44" font-size="10" text-anchor="end" font-weight="normal" fill="#111" >4</text>
<line x1="250" y1="686.96" x2="253.4" y2="686.96" stroke="#9a9a9a" stroke-width="1" />
<text x="247.6" y="691.76" font-size="10" text-anchor="end" font-weight="normal" fill="#111" >6</text>
<line x1="250" y1="660.28" x2="253.4" y2="660.28" stroke="#9a9a9a" stroke-width="1" />
<text x="247.6" y="665.08" font-size="10" text-anchor="end" font-weight="normal" fill="#111" >8</text>
<line x1="250" y1="633.6" x2="253.4" y2="633.6" stroke="#9a9a9a" stroke-width="1" />
<text x="247.6" y="638.4" font-size="10" text-anchor="end" font-weight="normal" fill="#111" >10</text>
<line x1="250.8" y1="767" x2="392.4" y2="767" stroke="#9a9a9a" stroke-width="1.1" />
<line x1="397.2" y1="767" x2="434.8" y2="767" stroke="#9a9a9a" stroke-width="1.1" />
<line x1="391.3" y1="771.3" x2="394.1" y2="762.7" stroke="#8a8a8a" stroke-width="0.9" />
<line x1="395.5" y1="771.3" x2="398.3" y2="762.7" stroke="#8a8a8a" stroke-width="0.9" />
<line x1="275.2" y1="767" x2="275.2" y2="772" stroke="#8a8a8a" stroke-width="0.9" />
<text x="275.2" y="782.4" font-size="10.2" text-anchor="middle" font-weight="normal" fill="#111" >0</text>
<line x1="321" y1="767" x2="321" y2="772" stroke="#8a8a8a" stroke-width="0.9" />
<text x="321" y="782.4" font-size="10.2" text-anchor="middle" font-weight="normal" fill="#111" >2</text>
<line x1="366.5" y1="767" x2="366.5" y2="772" stroke="#8a8a8a" stroke-width="0.9" />
<text x="366.5" y="782.4" font-size="10.2" text-anchor="middle" font-weight="normal" fill="#111" >4</text>
<line x1="412.1" y1="767" x2="412.1" y2="772" stroke="#8a8a8a" stroke-width="0.9" />
<text x="412.1" y="782.4" font-size="10.2" text-anchor="middle" font-weight="normal" fill="#111" >7</text>
<line x1="321" y1="746" x2="321" y2="743.1" stroke="#3c3c3c" stroke-width="1.15" />
<line x1="318.6" y1="743.1" x2="323.4" y2="743.1" stroke="#3c3c3c" stroke-width="1.15" />
<line x1="366.5" y1="729" x2="366.5" y2="723.1" stroke="#3c3c3c" stroke-width="1.15" />
<line x1="364.1" y1="723.1" x2="368.9" y2="723.1" stroke="#3c3c3c" stroke-width="1.15" />
<line x1="412.1" y1="672" x2="412.1" y2="649.8" stroke="#3c3c3c" stroke-width="1.15" />
<line x1="409.7" y1="649.8" x2="414.5" y2="649.8" stroke="#3c3c3c" stroke-width="1.15" />
<line x1="412.1" y1="697" x2="412.1" y2="679.4" stroke="#3c3c3c" stroke-width="1.15" />
<line x1="409.7" y1="679.4" x2="414.5" y2="679.4" stroke="#3c3c3c" stroke-width="1.15" />
<line x1="412.1" y1="739" x2="412.1" y2="731.4" stroke="#3c3c3c" stroke-width="1.15" />
<line x1="409.7" y1="731.4" x2="414.5" y2="731.4" stroke="#3c3c3c" stroke-width="1.15" />
<polyline points="275.2,754 321,749.2 366.5,736.9 412.1,697.8" fill="none" stroke="#4459a8" stroke-width="1.5" stroke-linejoin="round" />
<rect x="272.2" y="751" width="6" height="6" fill="#4459a8"/>
<rect x="318" y="746.2" width="6" height="6" fill="#4459a8"/>
<rect x="363.5" y="733.9" width="6" height="6" fill="#4459a8"/>
<rect x="409.1" y="694.8" width="6" height="6" fill="#4459a8"/>
<polyline points="275.2,754.6 321,751.4 366.5,747.7 412.1,739.4" fill="none" stroke="#111111" stroke-width="1.5" stroke-linejoin="round" />
<path d="M275.2,750.4 L279.4,754.6 L275.2,758.8 L271,754.6 Z" fill="#111111"/>
<path d="M321,747.2 L325.2,751.4 L321,755.6 L316.8,751.4 Z" fill="#111111"/>
<path d="M366.5,743.5 L370.7,747.7 L366.5,751.9 L362.3,747.7 Z" fill="#111111"/>
<path d="M412.1,735.2 L416.3,739.4 L412.1,743.6 L407.9,739.4 Z" fill="#111111"/>
<polyline points="275.2,754.4 321,746.2 366.5,729.2 412.1,672.3" fill="none" stroke="#cc3b3b" stroke-width="1.5" stroke-linejoin="round" />
<path d="M275.2,750.55 L278.9,756.96 L271.5,756.96 Z" fill="#cc3b3b"/>
<path d="M321,742.35 L324.7,748.76 L317.3,748.76 Z" fill="#cc3b3b"/>
<path d="M366.5,725.35 L370.2,731.76 L362.8,731.76 Z" fill="#cc3b3b"/>
<path d="M412.1,668.45 L415.8,674.86 L408.4,674.86 Z" fill="#cc3b3b"/>
<text x="345.4" y="660.9" font-size="9.8" text-anchor="middle" font-weight="normal" fill="#111" >Syk knock down</text>
<text x="346" y="793.4" font-size="9.2" text-anchor="middle" font-weight="normal" fill="#111" >Days of cell culture</text>
<text transform="translate(229.2,698.3) rotate(-90)" font-size="8.8" text-anchor="middle" fill="#111">Cell number [×10<tspan font-size="5.8" dy="-3">6</tspan><tspan dy="3"> cells]</tspan></text>
<line x1="441" y1="672.6" x2="455.2" y2="672.6" stroke="#111111" stroke-width="1.4" />
<path d="M448.1,669.8 L450.9,672.6 L448.1,675.4 L445.3,672.6 Z" fill="#111111"/>
<text x="461.3" y="676.1" font-size="8.3" text-anchor="start" font-weight="normal" fill="#111" style="stroke-width:0.4px">EGFP</text>
<line x1="441" y1="686" x2="455.2" y2="686" stroke="#4459a8" stroke-width="1.4" />
<rect x="445.9" y="683.8" width="4.4" height="4.4" fill="#4459a8"/>
<text x="461.3" y="689.5" font-size="8.3" text-anchor="start" font-weight="normal" fill="#111" style="stroke-width:0.4px">caSTAT3/EGFP</text>
<line x1="441" y1="698.8" x2="455.2" y2="698.8" stroke="#cc3b3b" stroke-width="1.4" />
<path d="M448.1,696.1 L450.7,700.6 L445.5,700.6 Z" fill="#cc3b3b"/>
<text x="461.3" y="702.3" font-size="8.3" text-anchor="start" font-weight="normal" fill="#111" style="stroke-width:0.4px">caSTAT5/EGFP</text>
</svg>
</body></html>
